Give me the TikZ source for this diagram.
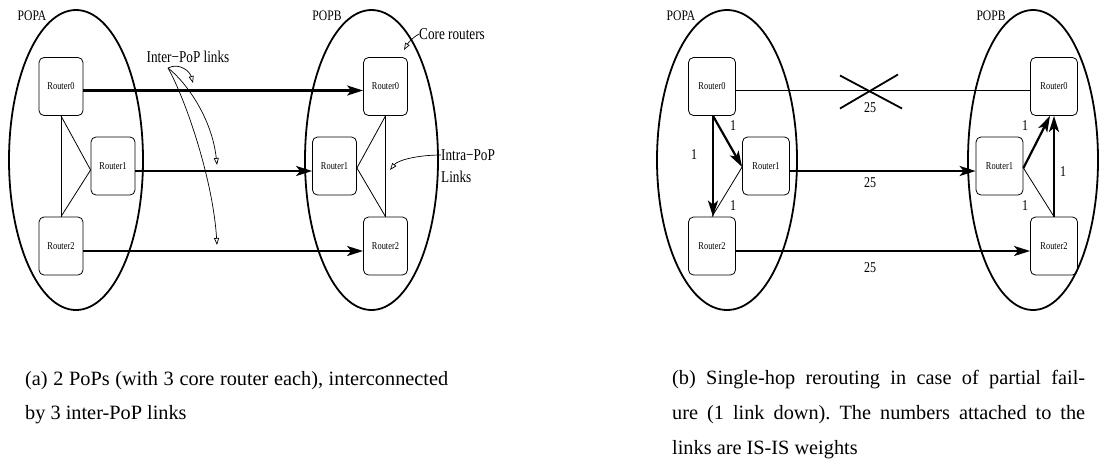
\documentclass[tikz,border=0pt]{standalone}
\usepackage{fontspec}
\setmainfont{Liberation Serif}
\usepackage{graphicx}
\usetikzlibrary{arrows.meta,calc}
\newcommand{\nar}[1]{\scalebox{0.8}[1]{#1}}
\frenchspacing
\tikzset{
  pop/.style={line width=1.8pt},
  router/.style={draw, line width=0.8pt, rounded corners=5pt, minimum width=44pt, minimum height=58pt, inner sep=0pt, font=\fontsize{10.5}{12}\selectfont},
  routerb/.style={router, minimum width=47pt},
  link/.style={line width=2.2pt, -{Stealth[length=16pt,width=10pt,inset=4pt]}},
  thinl/.style={line width=0.8pt},
  ptr/.style={line width=0.7pt, -{Triangle[open,length=7pt,width=5pt]}},
  lbl/.style={inner sep=0pt, font=\fontsize{16.5}{18}\selectfont},
  poplbl/.style={inner sep=0pt, font=\fontsize{14.5}{16}\selectfont},
  wt/.style={inner sep=0pt, font=\fontsize{15}{17}\selectfont},
  captext/.style={inner sep=0pt, anchor=base west, font=\fontsize{20.3}{24}\selectfont},
}
\begin{document}
\begin{tikzpicture}[x=1pt,y=-1pt]
\useasboundingbox (0,0) rectangle (1099,464);

% ---------------- panel (a) ----------------
\draw[pop] (76,160) ellipse [x radius=67, y radius=150];
\draw[pop] (371.5,160) ellipse [x radius=66.5, y radius=150];
\node[poplbl] (popa) at (32,16) {\nar{POPA}};
\node[poplbl] (popb) at (327,16) {\nar{POPB}};

\node[router] (a0) at (61,86.5) {\nar{Router0}};
\node[router] (a1) at (113,166) {\nar{Router1}};
\node[router] (a2) at (61,246) {\nar{Router2}};
\node[router] (b0) at (385.5,86.5) {\nar{Router0}};
\node[router] (b1) at (334.5,166) {\nar{Router1}};
\node[router] (b2) at (385.5,246) {\nar{Router2}};

\draw[link] ([yshift=-4pt]a0.east) -- ([yshift=-4pt]b0.west);
\draw[link] ([yshift=-5pt]a1.east) -- ([yshift=-5pt]b1.west);
\draw[link] ([yshift=-5pt]a2.east) -- ([yshift=-5pt]b2.west);

\draw[thinl] (a0.south) -- (a2.north);
\draw[thinl] (a0.south) -- ([yshift=-4pt]a1.west) -- (a2.north);
\draw[thinl] (b0.south) -- (b2.north);
\draw[thinl] (b0.south) -- ([yshift=-2pt]b1.east) -- (b2.north);

\node[lbl] (ipt) at (188,57) {\nar{Inter−PoP links}};
\coordinate (ips) at (168,68);
\coordinate (ip1) at (193,83);
\coordinate (ip2) at (217,165);
\coordinate (ip3) at (217,245);
\draw[ptr] (ips) .. controls (180,62) and (190,72) .. (ip1);
\draw[ptr] (ips) .. controls (186,82) and (212,118) .. (ip2);
\draw[ptr] (ips) .. controls (186,100) and (213,180) .. (ip3);

\node[lbl, anchor=west] (crt) at (419,34) {\nar{Core routers}};
\coordinate (crp) at (404,50);
\draw[ptr] (crt.west) .. controls (412,38) and (408,43) .. (crp);

\node[lbl, anchor=west] (ilt) at (441,155) {\nar{Intra−PoP}};
\node[lbl, anchor=west] (ilt2) at (441,177) {\nar{Links}};
\coordinate (ilp) at (390,170);
\draw[ptr] (ilt.west) .. controls (418,155) and (398,160) .. (ilp);

% ---------------- panel (b) ----------------
\draw[pop] (727,160) ellipse [x radius=70, y radius=150];
\draw[pop] (1033,160) ellipse [x radius=65, y radius=150];
\node[poplbl] (popa2) at (681,16) {\nar{POPA}};
\node[poplbl] (popb2) at (991,16) {\nar{POPB}};

\node[routerb] (c0) at (712,86.5) {\nar{Router0}};
\node[routerb] (c1) at (766,166) {\nar{Router1}};
\node[routerb] (c2) at (712,246) {\nar{Router2}};
\node[routerb] (d0) at (1054,86.5) {\nar{Router0}};
\node[routerb] (d1) at (999.5,166) {\nar{Router1}};
\node[routerb] (d2) at (1054,246) {\nar{Router2}};

\draw[thinl] ([yshift=-4pt]c0.east) -- ([yshift=-4pt]d0.west);
\coordinate (xc) at (869,90.5);
\draw[line width=1.8pt] ($(xc)+(-29,-15)$) -- ($(xc)+(33,18)$);
\draw[line width=1.8pt] ($(xc)+(-29,18)$) -- ($(xc)+(29,-16)$);
\draw[link] ([yshift=-5pt]c1.east) -- ([yshift=-5pt]d1.west);
\draw[link] ([yshift=-5pt]c2.east) -- ([yshift=-5pt]d2.west);
\node[wt] (w1) at (870,108) {\nar{25}};
\node[wt] (w2) at (870,183) {\nar{25}};
\node[wt] (w3) at (870,268) {\nar{25}};

\draw[link] ([xshift=1pt]c0.south) -- ([xshift=1pt]c2.north);
\draw[link] ([xshift=1pt]c0.south) -- ([yshift=-1pt]c1.west);
\draw[thinl] ([yshift=-1pt]c1.west) -- (c2.north);
\node[wt] (w4) at (694,155) {\nar{1}};
\node[wt] (w5) at (733,126) {\nar{1}};
\node[wt] (w6) at (733,206) {\nar{1}};

\draw[link] ([yshift=-2pt]d1.east) -- ([xshift=-4pt]d0.south);
\draw[link] (d2.north) -- (d0.south);
\draw[thinl] ([yshift=-2pt]d1.east) -- (d2.north);
\node[wt] (w7) at (1025,126) {\nar{1}};
\node[wt] (w8) at (1025,206) {\nar{1}};
\node[wt] (w9) at (1063,172) {\nar{1}};

% ---------------- captions ----------------
\node[captext] (capa1) at (25,385) {\makebox[423pt][s]{(a) 2 PoPs (with 3 core router each), interconnected}};
\node[captext] (capa2) at (25,419) {by 3 inter-PoP links};
\node[captext] (capb1) at (672,384) {\makebox[413pt][s]{(b) Single-hop rerouting in case of partial fail-}};
\node[captext] (capb2) at (672,419) {\makebox[413pt][s]{ure (1 link down). The numbers attached to the}};
\node[captext] (capb3) at (672,454) {links are IS-IS weights};
\end{tikzpicture}
\end{document}
